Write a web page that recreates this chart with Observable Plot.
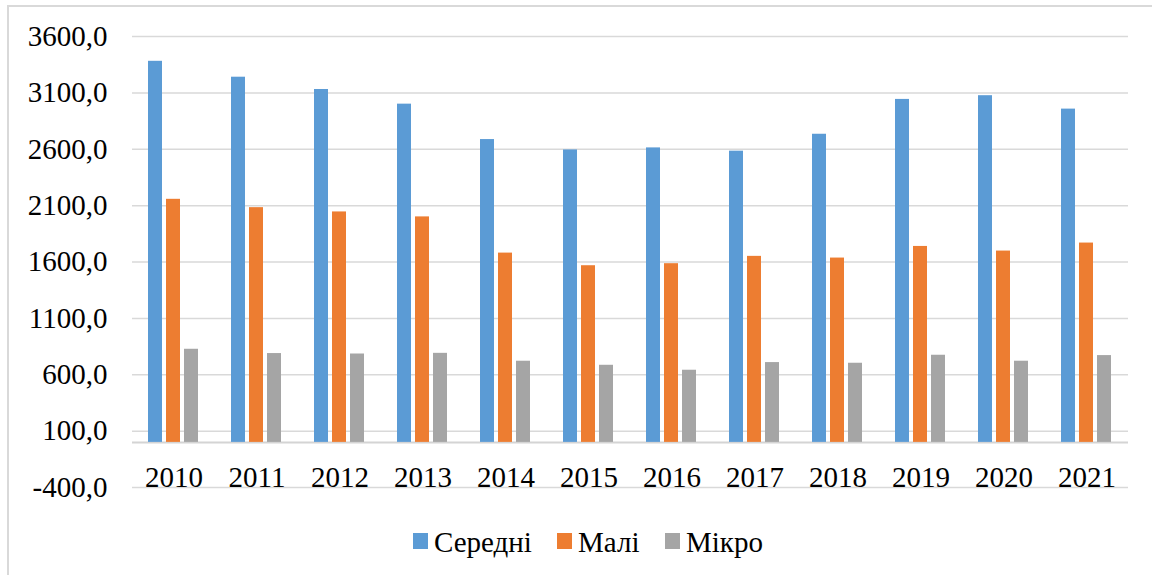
<!DOCTYPE html>
<html>
<head>
<meta charset="utf-8">
<script src="https://cdn.jsdelivr.net/npm/d3@7"></script>
<script src="https://cdn.jsdelivr.net/npm/@observablehq/plot@0.6"></script>
<style>
  html, body { margin: 0; padding: 0; background: #fff; overflow: hidden; }
  #wrap { position: relative; width: 1152px; height: 575px; }
  #border { position: absolute; left: 7px; top: 5px; width: 1300px; height: 700px;
            border-top: 2px solid #d9d9d9; border-left: 2px solid #d9d9d9; }
  #chart { position: absolute; left: 0; top: 0; }
  .lg { position: absolute; font-family: "Liberation Serif", "DejaVu Serif", serif; font-size: 29px; line-height: 30px; height: 30px; color: #000; white-space: nowrap; }
  .sw { position: absolute; width: 15px; height: 16px; }
</style>
</head>
<body>
<div id="wrap">
  <div id="border"></div>
  <div id="chart"></div>
  <div id="legend"></div>
</div>
<script>
const years = ["2010","2011","2012","2013","2014","2015","2016","2017","2018","2019","2020","2021"];
const series = ["Середні", "Малі", "Мікро"];
const seredni = [3380, 3239, 3130, 3000, 2686, 2594, 2612, 2583, 2733, 3042, 3075, 2956];
const mali    = [2156, 2082, 2044, 2000, 1679, 1567, 1585, 1650, 1635, 1738, 1697, 1768];
const mikro   = [826, 788, 784, 790, 720, 684, 640, 708, 702, 773, 720, 770];
const yTicks = [-400, 100, 600, 1100, 1600, 2100, 2600, 3100, 3600];
const colors = ["#5B9BD5", "#ED7D31", "#A5A5A5"];

const valuesBySeries = [seredni, mali, mikro];
const table = years.flatMap((yr, i) => series.map((s, j) => ({year: yr, series: s, value: valuesBySeries[j][i]})));

const serif = "'Liberation Serif', 'DejaVu Serif', serif";

const chart = Plot.plot({
  width: 1152,
  height: 515,
  marginLeft: 131,
  marginRight: 23,
  marginTop: 36,
  marginBottom: 28,
  style: {fontFamily: serif, fontSize: "29px", background: "transparent", color: "#000"},
  fx: {domain: years, padding: 0, axis: null},
  x: {domain: series, paddingInner: 0.2, paddingOuter: 0.87, axis: null},
  y: {domain: [-400, 3600], axis: null},
  color: {domain: series, range: colors},
  marks: [
    Plot.ruleY(yTicks, {stroke: "#d9d9d9", strokeWidth: 1.5}),
    Plot.ruleY([0], {stroke: "#d4d4d4", strokeWidth: 2}),
    Plot.barY(table, {fx: "year", x: "series", y: "value", fill: "series"}),
    Plot.text(years, {fx: d => d, y: -400, text: d => d, lineAnchor: "bottom", dy: -1, fontSize: 29, fontFamily: serif, fill: "#000"}),
    Plot.axisY({ticks: yTicks, anchor: "left", label: null, tickSize: 0, tickPadding: 25, fontSize: 29, fontFamily: serif, fill: "#000",
      tickFormat: d => d.toFixed(1).replace(".", ",")})
  ]
});
document.getElementById("chart").appendChild(chart);

// legend
const legend = document.getElementById("legend");
const items = [
  {label: series[0], color: colors[0], sx: 413, tx: 434},
  {label: series[1], color: colors[1], sx: 557, tx: 578},
  {label: series[2], color: colors[2], sx: 665, tx: 686}
];
for (const it of items) {
  const sw = document.createElement("div");
  sw.className = "sw";
  sw.style.left = it.sx + "px";
  sw.style.top = "533px";
  sw.style.background = it.color;
  legend.appendChild(sw);
  const t = document.createElement("div");
  t.className = "lg";
  t.style.left = it.tx + "px";
  t.style.top = "527px";
  t.textContent = it.label;
  legend.appendChild(t);
}
</script>
</body>
</html>
